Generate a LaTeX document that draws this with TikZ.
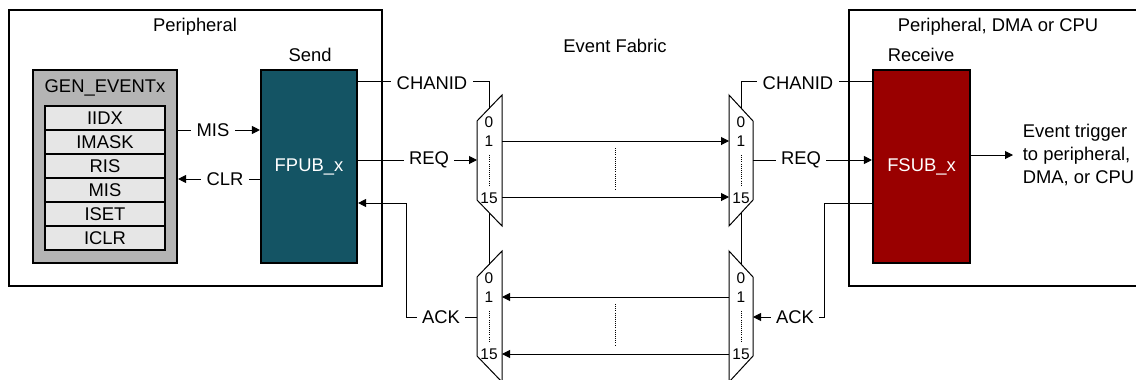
\documentclass[tikz,border=0pt]{standalone}
\usepackage{fontspec}
\setmainfont{Liberation Sans}
\usepackage{tikz}
\usetikzlibrary{arrows.meta}
\usetikzlibrary{calc}
\definecolor{genfill}{RGB}{180,180,180}
\definecolor{regfill}{RGB}{230,230,230}
\definecolor{fpubfill}{RGB}{20,84,100}
\definecolor{fsubfill}{RGB}{153,0,0}
\tikzset{every picture/.style={line width=0.75pt}}
\tikzset{sig/.style={-{Triangle[length=6pt,width=6pt]}},tag/.style={fill=white,inner xsep=4pt,inner ysep=1.5pt},block/.style={draw,line width=1.6pt,minimum width=72pt,minimum height=144.75pt,text=white},reg/.style={draw,line width=1.5pt,fill=regfill,minimum width=90pt,minimum height=18pt,inner sep=0pt},muxno/.style={font=\fontsize{11.6}{12}\selectfont,inner sep=0pt}}

\begin{document}
\begin{tikzpicture}[x=0.75pt,y=-0.75pt,font=\fontsize{13.8}{17.25}\selectfont]
\useasboundingbox (0,0) rectangle (1136,379);
\clip (0,0) rectangle (1136,379);

\draw [line width=1.7pt] (9,10) rectangle (382,286);
\draw [line width=1.7pt] (849,10) rectangle (1160,286);
\node (perL) at (195,27) {Peripheral};
\node (perR) at (998,27) {Peripheral, DMA or CPU};
\node (fabric) at (615,46) {Event Fabric};
\node (send) at (310,55) {Send};
\node (recv) at (921,55) {Receive};

% GEN_EVENTx
\node (gen) at (105,166.5) [draw,line width=1.6pt,fill=genfill,minimum width=108pt,minimum height=144.75pt] {};
\node (gentitle) at (105,88) {GEN\_EVENTx};
\foreach \i / \r in {0/IIDX, 1/IMASK, 2/RIS, 3/MIS, 4/ISET, 5/ICLR} {
\node (r\i) at ($(105,118) + \i*(0,24)$) [reg] {\r};
}

\node (fpub) at (309,166.5) [block,fill=fpubfill] {FPUB\_x};
\node (fsub) at (921.5,166.5) [block,fill=fsubfill,minimum width=72.75pt] {FSUB\_x};

% multiplexers
\foreach \t in {95,251} {
\draw (477,\t+26) -- (502,\t) -- (502,\t+131) -- (477,\t+105) -- cycle;
\draw (729,\t) -- (753,\t+26) -- (753,\t+105) -- (729,\t+131) -- cycle;
}
\foreach \mx in {489,741} {
\foreach \my in {122,278} {
\node (n0-\mx-\my) at (\mx,\my) [muxno] {0};
\node (n1-\mx-\my) at ($(\mx,\my)+(0,19.5)$) [muxno] {1};
\node (n15-\mx-\my) at ($(\mx,\my)+(0,76)$) [muxno] {15};
\draw [densely dotted,line width=0.6pt] ($(\mx,\my)+(0,33)$) -- ($(\mx,\my)+(0,63)$);
}
}

\coordinate (selA) at (489,108.5);
\coordinate (selA1) at (489,212.5);
\coordinate (selA2) at (489,264.5);
\coordinate (selB) at (741,108);
\coordinate (selB1) at (741,213);
\coordinate (selB2) at (741,264);
\coordinate (reqA) at (477,160);
\coordinate (reqB) at (753,160);
\coordinate (ackA) at (477,317);
\coordinate (ackB) at (753,317);
\coordinate (a1) at (502,141);
\coordinate (a15) at (502,197);
\coordinate (b1) at (729,141);
\coordinate (b15) at (729,197);
\coordinate (c1) at (502,297);
\coordinate (c15) at (502,354);
\coordinate (d1) at (729,297);
\coordinate (d15) at (729,354);

% send side
\draw [sig] ($(gen.east)+(0,-36.5)$) -- ($(fpub.west)+(0,-36.5)$);
\node (mis) at (213,130) [tag] {MIS};
\draw [sig] ($(fpub.west)+(0,12.5)$) -- ($(gen.east)+(0,12.5)$);
\node (clr) at (225,179) [tag] {CLR};
\draw ($(fpub.north east)+(0,13)$) -| (selA);
\node (chanA) at (432,83) [tag] {CHANID};
\draw [sig] (fpub.east |- reqA) -- (reqA);
\node (reqtA) at (429,160) [tag] {REQ};
\draw [sig] (ackA) -| ($(fpub.east)+(48,36.5)$) -- ($(fpub.east)+(0,36.5)$);
\node (acktA) at (441,317) [tag] {ACK};
\draw (selA1) -- (selA2);

% fabric
\draw [sig] (a1) -- (b1);
\draw [sig] (a15) -- (b15);
\draw [sig] (d1) -- (c1);
\draw [sig] (d15) -- (c15);
\draw [densely dotted,line width=0.6pt] (615,148) -- (615,190);
\draw [densely dotted,line width=0.6pt] (615,304) -- (615,346);

% receive side
\draw ($(fsub.north west)+(0,13)$) -| (selB);
\node (chanB) at (798,83) [tag] {CHANID};
\draw [sig] (reqB) -- (reqB -| fsub.west);
\node (reqtB) at (801,160) [tag] {REQ};
\draw [sig] ($(fsub.west)+(0,36.5)$) -- ++(-47,0) |- (ackB);
\node (acktB) at (795,317) [tag] {ACK};
\draw (selB1) -- (selB2);

\node (trig) at (1013,155) [anchor=west,align=left,inner xsep=7pt,inner ysep=0pt] {Event trigger\\to peripheral,\\DMA, or CPU};
\draw [sig] (fsub.east |- trig.west) -- (trig.west);

\end{tikzpicture}
\end{document}
